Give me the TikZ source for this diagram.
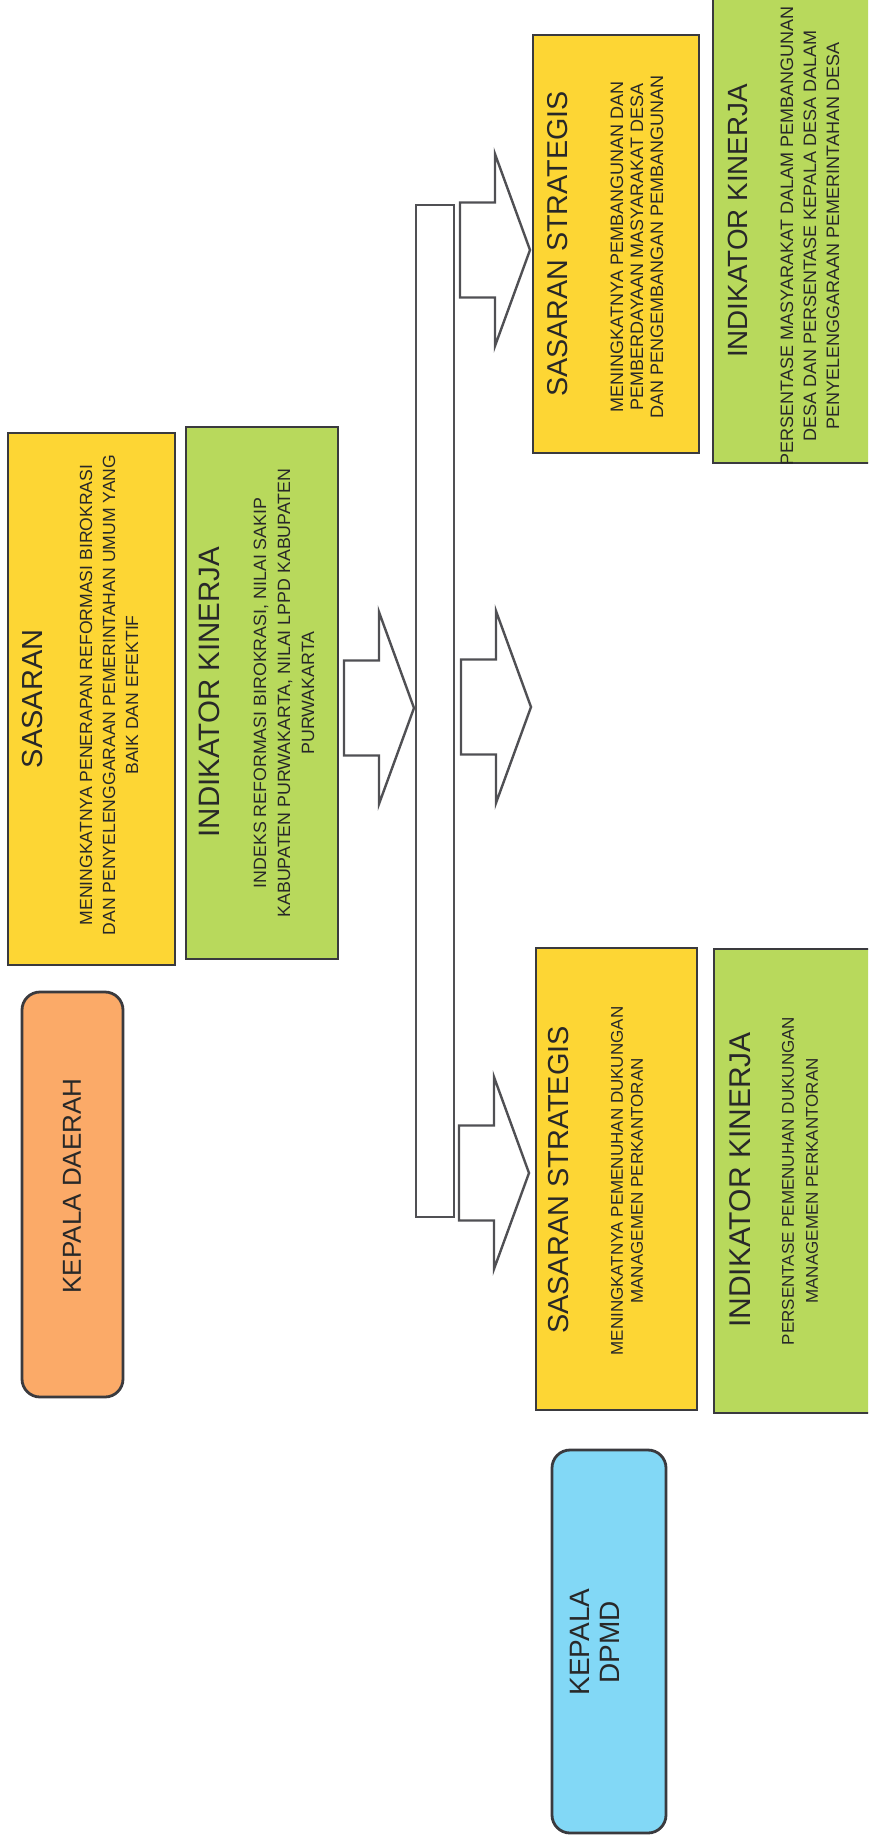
\documentclass[tikz,border=0pt]{standalone}
\usepackage{fontspec}
\setmainfont{Liberation Sans}
\definecolor{boxyellow}{RGB}{253,214,52}
\definecolor{boxgreen}{RGB}{184,217,92}
\definecolor{boxorange}{RGB}{251,170,104}
\definecolor{boxblue}{RGB}{130,216,246}
\definecolor{edgegray}{RGB}{58,58,62}
\definecolor{arrowgray}{RGB}{80,80,84}
\definecolor{txt}{RGB}{40,40,40}
\begin{document}
\begin{tikzpicture}[x=1pt,y=-1pt,
  panel/.style={draw=edgegray, line width=2.8pt, inner sep=0pt},
  ttl/.style={rotate=90, inner sep=0pt, text=txt, font=\fontsize{#1}{#1}\selectfont},
  bdy/.style 2 args={rotate=90, inner sep=0pt, align=center, text=txt, font=\fontsize{#1}{#2}\selectfont},
  arrowline/.style={draw=arrowgray, line width=2.4pt, fill=white, line join=miter},
  blockarrow/.pic={\draw[arrowline] (0,-47.5) -- (35,-47.5) -- (35,-96) -- (70,0) -- (35,96) -- (35,47.5) -- (0,47.5) -- cycle;}
]
\useasboundingbox (0,0) rectangle (868,1846);
\clip (0,0) rectangle (868,1846);

% left column
\node[panel, fill=boxyellow, minimum width=167pt, minimum height=532pt] (sas) at (91.5,699) {};
\node[panel, fill=boxgreen, minimum width=152pt, minimum height=532pt] (ind) at (262,693) {};
\node[panel, fill=boxorange, rounded corners=18pt, minimum width=101pt, minimum height=405pt] (kd) at (72.5,1194.5) {};

\node[ttl=29] (sasT) at (33,699) {SASARAN};
\node[bdy={17.6}{23}] (sasB) at (109,695) {MENINGKATNYA PENERAPAN REFORMASI BIROKRASI\\DAN PENYELENGGARAAN PEMERINTAHAN UMUM YANG\\BAIK DAN EFEKTIF};
\node[ttl=29.5] (indT) at (209,692) {INDIKATOR KINERJA};
\node[bdy={17.8}{24}] (indB) at (284,693) {INDEKS REFORMASI BIROKRASI, NILAI SAKIP\\KABUPATEN PURWAKARTA, NILAI LPPD KABUPATEN\\PURWAKARTA};
\node[ttl=26] (kdT) at (72,1186) {KEPALA DAERAH};

% bar and arrows
\node[panel, draw=arrowgray, line width=2.4pt, fill=white, minimum width=38pt, minimum height=1012pt] (bar) at (435,711) {};
\pic at (344,708) {blockarrow};
\pic at (461,707) {blockarrow};
\pic at (460,250) {blockarrow};
\pic at (459,1173) {blockarrow};

% right column top
\node[panel, fill=boxyellow, minimum width=166pt, minimum height=418pt] (ss1) at (616,244) {};
\node[panel, fill=boxgreen, minimum width=167pt, minimum height=483pt] (ik1) at (796.5,221.5) {};
\node[ttl=28.7] (ss1T) at (558,244) {SASARAN STRATEGIS};
\node[bdy={18}{20}] (ss1B) at (637,247) {MENINGKATNYA PEMBANGUNAN DAN\\PEMBERDAYAAN MASYARAKAT DESA\\DAN PENGEMBANGAN PEMBANGUNAN};
\node[ttl=27.8] (ik1T) at (738,221) {INDIKATOR KINERJA};
\node[bdy={18}{23}] (ik1B) at (810,236) {PERSENTASE MASYARAKAT DALAM PEMBANGUNAN\\DESA DAN PERSENTASE KEPALA DESA DALAM\\PENYELENGGARAAN PEMERINTAHAN DESA};

% right column bottom
\node[panel, fill=boxyellow, minimum width=161pt, minimum height=462pt] (ss2) at (616.5,1179) {};
\node[panel, fill=boxgreen, minimum width=166pt, minimum height=464pt] (ik2) at (797,1181) {};
\node[ttl=28.9] (ss2T) at (559,1180) {SASARAN STRATEGIS};
\node[bdy={17}{20}] (ss2B) at (627,1181) {MENINGKATNYA PEMENUHAN DUKUNGAN\\MANAGEMEN PERKANTORAN};
\node[ttl=30] (ik2T) at (740,1180) {INDIKATOR KINERJA};
\node[bdy={17}{24}] (ik2B) at (800,1181) {PERSENTASE PEMENUHAN DUKUNGAN\\MANAGEMEN PERKANTORAN};

\node[panel, fill=boxblue, rounded corners=18pt, minimum width=114pt, minimum height=383pt] (dpmd) at (609,1641.5) {};
\node[bdy={28}{30}] (dpmdT) at (595,1642) {KEPALA\\DPMD};
\end{tikzpicture}
\end{document}
